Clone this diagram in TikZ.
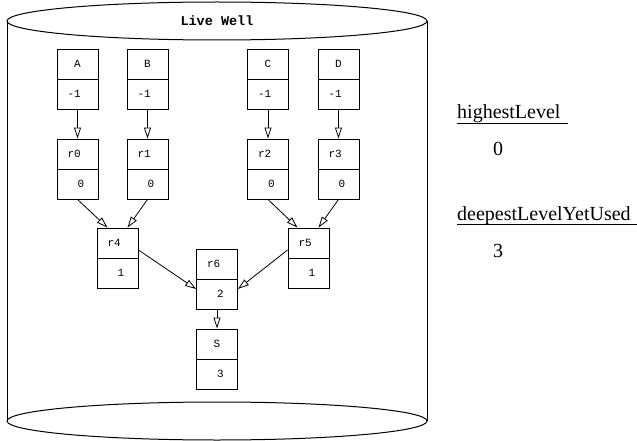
\documentclass[tikz,border=0pt]{standalone}
\usepackage{fontspec}
\setmainfont{Liberation Serif}
\newfontfamily\recfont{Liberation Mono}
\usetikzlibrary{arrows.meta}

\tikzset{
  recbox/.style={draw,line width=0.9pt,minimum width=41pt,minimum height=60pt,inner sep=0pt},
  rectext/.style={inner sep=0pt,font=\recfont\fontsize{11}{13}\selectfont},
  edge/.style={-{Triangle[open,length=11pt,width=7pt]},line width=0.8pt},
  varname/.style={inner sep=0pt,font=\fontsize{20}{24}\selectfont},
}

%% record with a label cell and a level cell
\newcommand{\lvlrec}[5]{%
  \node[recbox] (#1) at (#2,#3) {};
  \draw[line width=0.9pt] (#1.west) -- (#1.east);
  \node[rectext] (#1-lbl) at (#2,{#3-15}) {#4};
  \node[rectext] (#1-lvl) at (#2,{#3+15}) {#5};
}

\begin{document}
\begin{tikzpicture}[x=1pt,y=-1pt]
    \useasboundingbox (0,0) rectangle (637,441);
    %% the well
    \draw[line width=1pt] (217,21) ellipse [x radius=210, y radius=19];
    \draw[line width=1pt] (7,21) -- (7,421);
    \draw[line width=1pt] (427,21) -- (427,421);
    \draw[line width=1pt] (217,421) ellipse [x radius=210, y radius=19];
    \node[rectext,font=\recfont\bfseries\fontsize{13.5}{16}\selectfont] (well) at (217,21) {Live Well};
    %% inputs
    \lvlrec{A}{77.5}{79}{A}{-1\hphantom{0}}
    \lvlrec{B}{147.5}{79}{B}{-1\hphantom{0}}
    \lvlrec{C}{268}{79}{C}{-1\hphantom{0}}
    \lvlrec{D}{338.5}{79}{D}{-1\hphantom{0}}
    %% level 0
    \lvlrec{r0}{77.5}{169}{r0\hphantom{0}}{\hphantom{0}0}
    \lvlrec{r1}{147.5}{169}{r1\hphantom{0}}{\hphantom{0}0}
    \lvlrec{r2}{268}{169}{r2\hphantom{0}}{\hphantom{0}0}
    \lvlrec{r3}{338.5}{169}{r3\hphantom{0}}{\hphantom{0}0}
    %% deeper levels
    \lvlrec{r4}{117.5}{258}{r4\hphantom{0}}{\hphantom{0}1}
    \lvlrec{r5}{308.5}{258}{r5\hphantom{0}}{\hphantom{0}1}
    \lvlrec{r6}{217}{279}{r6\hphantom{0}}{\hphantom{0}2}
    \lvlrec{S}{217}{359}{S}{\hphantom{0}3}
    %% edges
    \draw[edge] (A.south) -- (r0.north);
    \draw[edge] (B.south) -- (r1.north);
    \draw[edge] (C.south) -- (r2.north);
    \draw[edge] (D.south) -- (r3.north);
    \draw[edge] (r0.south) -- ([xshift=-10pt]r4.north);
    \draw[edge] (r1.south) -- ([xshift=10pt]r4.north);
    \draw[edge] (r2.south) -- ([xshift=-11pt]r5.north);
    \draw[edge] (r3.south) -- ([xshift=10pt]r5.north);
    \draw[edge] ([yshift=8pt]r4.east) -- ([yshift=-10pt]r6.west);
    \draw[edge] ([yshift=8pt]r5.west) -- ([yshift=-10pt]r6.east);
    \draw[edge] (r6.south) -- (S.north);
    %% variables
    \node[varname,anchor=base west] (hl) at (457,119) {highestLevel};
    \draw[line width=0.8pt] ([yshift=-4.5pt]hl.base west) -- ([xshift=7pt,yshift=-4.5pt]hl.base east);
    \node[varname,anchor=base] (hlval) at (498,156) {0};
    \node[varname,anchor=base west] (dl) at (457,220) {deepestLevelYetUsed};
    \draw[line width=0.8pt] ([yshift=-4.5pt]dl.base west) -- ([xshift=7pt,yshift=-4.5pt]dl.base east);
    \node[varname,anchor=base] (dlval) at (498,257) {3};
\end{tikzpicture}
\end{document}
